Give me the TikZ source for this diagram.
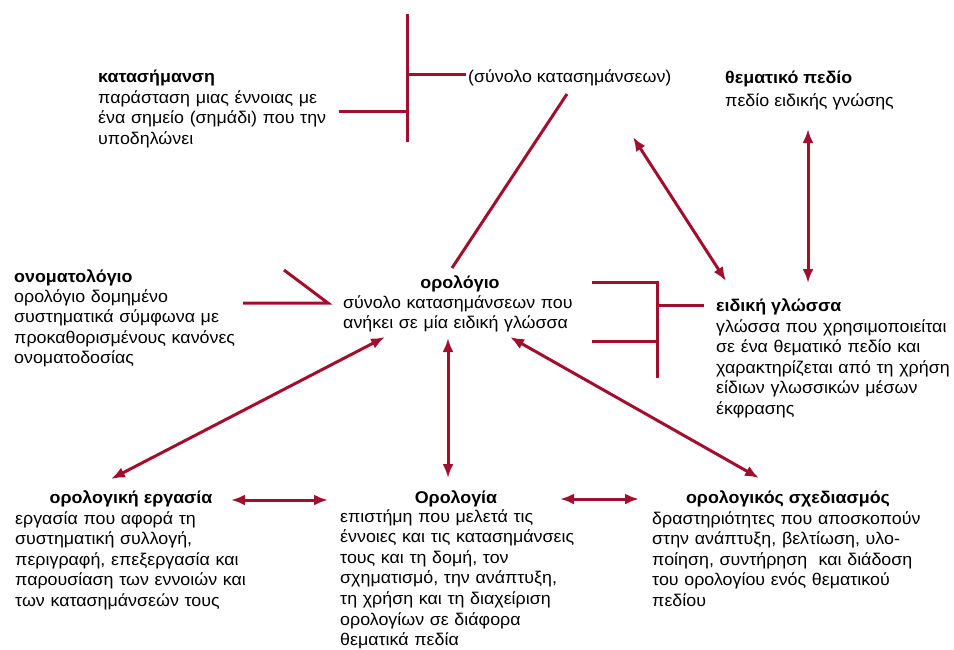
\documentclass[tikz,border=0pt]{standalone}
\usepackage{fontspec}
\setmainfont[FakeStretch=1.05]{Liberation Sans}
\usetikzlibrary{arrows.meta}
\definecolor{dred}{RGB}{162,14,46}
\begin{document}
\begin{tikzpicture}[x=1pt,y=-1pt,
  txt/.style={font=\fontsize{17}{20.6}\selectfont, inner sep=0pt, anchor=base west, align=left},
  ttl/.style={font=\fontsize{17}{20.6}\selectfont\bfseries, inner sep=0pt, anchor=base west},
  link/.style={draw=dred, line width=3pt},
  biarr/.style={link, {Latex[length=14pt,width=11pt]}-{Latex[length=14pt,width=11pt]}}]
\useasboundingbox (0,0) rectangle (954,649);

% texts
\node[ttl] (kat) at (98,82) {κατασήμανση};
\node[txt, text width=240pt] (katd) at (98,103) {παράσταση μιας έννοιας με\\ένα σημείο (σημάδι) που την\\υποδηλώνει};
\node[txt] (synolo) at (468,82) {(σύνολο κατασημάνσεων)};
\node[ttl] (them) at (725,83) {θεματικό πεδίο};
\node[txt] (themd) at (725,106) {πεδίο ειδικής γνώσης};

\node[ttl] (onom) at (14,282) {ονοματολόγιο};
\node[txt, text width=260pt] (onomd) at (14,302) {ορολόγιο δομημένο\\συστηματικά σύμφωνα με\\προκαθορισμένους κανόνες\\ονοματοδοσίας};

\node[ttl, anchor=base] (orol) at (460,288) {ορολόγιο};
\node[txt, text width=250pt] (orold) at (343,308) {σύνολο κατασημάνσεων που\\ανήκει σε μία ειδική γλώσσα};

\node[ttl] (eid) at (716,311) {ειδική γλώσσα};
\node[txt, text width=240pt] (eidd) at (716,332) {γλώσσα που χρησιμοποιείται\\σε ένα θεματικό πεδίο και\\χαρακτηρίζεται από τη χρήση\\είδιων γλωσσικών μέσων\\έκφρασης};

\node[ttl, anchor=base] (ergt) at (131,503) {ορολογική εργασία};
\node[txt, text width=240pt] (ergd) at (15,524) {εργασία που αφορά τη\\συστηματική συλλογή,\\περιγραφή, επεξεργασία και\\παρουσίαση των εννοιών και\\των κατασημάνσεών τους};

\node[ttl, anchor=base] (orot) at (456,503) {Ορολογία};
\node[txt, text width=250pt] (orod) at (340,522) {επιστήμη που μελετά τις\\έννοιες και τις κατασημάνσεις\\τους και τη δομή, τον\\σχηματισμό, την ανάπτυξη,\\τη χρήση και τη διαχείριση\\ορολογίων σε διάφορα\\θεματικά πεδία};

\node[ttl, anchor=base] (schet) at (788,503) {ορολογικός σχεδιασμός};
\node[txt, text width=280pt] (sched) at (652,524) {\makebox[274pt][s]{δραστηριότητες που αποσκοπούν}\\\makebox[274pt][s]{στην ανάπτυξη, βελτίωση, υλο-}\\\makebox[274pt][s]{ποίηση, συντήρηση \ και διάδοση}\\\makebox[274pt][s]{του ορολογίου ενός θεματικού}\\πεδίου};

% coordinates
\coordinate (b1t) at (407,14);
\coordinate (b1b) at (407,142);
\coordinate (b1u) at (407,74);
\coordinate (b1r) at (466,74);
\coordinate (b1l) at (407,111);
\coordinate (katr) at (339,111);
\coordinate (synb) at (567,94);
\coordinate (orolt) at (452,268);
\coordinate (gt1) at (243,303);
\coordinate (gtip) at (328,303);
\coordinate (gt2) at (284,270);
\coordinate (rb1) at (592,282);
\coordinate (rb2) at (592,341);
\coordinate (rbt) at (657,282);
\coordinate (rbb) at (657,378);
\coordinate (rbm) at (657,305);
\coordinate (rbe) at (704,305);
\coordinate (a1s) at (633,137);
\coordinate (a1e) at (726,281);
\coordinate (a2s) at (808,129);
\coordinate (a2e) at (808,283);
\coordinate (c1) at (385,337);
\coordinate (c1e) at (111,479);
\coordinate (c2) at (448,338);
\coordinate (c2e) at (448,478);
\coordinate (c3) at (510,337);
\coordinate (c3e) at (759,478);
\coordinate (h1s) at (231,500);
\coordinate (h1e) at (328,500);
\coordinate (h2s) at (560,499);
\coordinate (h2e) at (639,499);

% connectors
\draw[link] (b1t) -- (b1b);
\draw[link] (b1u) -- (b1r);
\draw[link] (katr) -- (b1l);
\draw[link] (synb) -- (orolt);
\draw[link] (gt1) -- (gtip) -- (gt2);
\draw[link] (rb1) -- (rbt) -- (rbb);
\draw[link] (rb2) -- (rbt |- rb2);
\draw[link] (rbm) -- (rbe);
\draw[biarr] (a1s) -- (a1e);
\draw[biarr] (a2s) -- (a2e);
\draw[biarr] (c1) -- (c1e);
\draw[biarr] (c2) -- (c2e);
\draw[biarr] (c3) -- (c3e);
\draw[biarr] (h1s) -- (h1e);
\draw[biarr] (h2s) -- (h2e);
\end{tikzpicture}
\end{document}
